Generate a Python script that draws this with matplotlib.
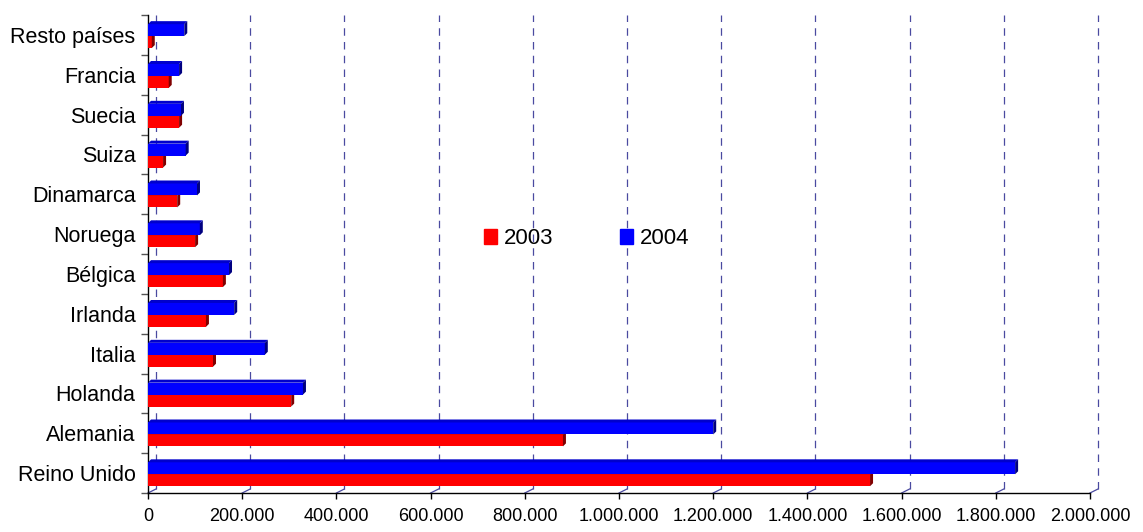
import numpy as np
import matplotlib
matplotlib.use("Agg")
import matplotlib.pyplot as plt
from matplotlib.patches import Patch
from matplotlib.ticker import FuncFormatter, MultipleLocator
from matplotlib.transforms import blended_transform_factory

# data (bottom to top)
paises = ["Reino Unido", "Alemania", "Holanda", "Italia", "Irlanda", "Bélgica",
          "Noruega", "Dinamarca", "Suiza", "Suecia", "Francia", "Resto países"]
v2003 = [1533000, 881000, 304000, 138000, 123000, 159000,
         100000, 62000, 32000, 66000, 44000, 8000]
v2004 = [1841000, 1200000, 329000, 248000, 183000, 172000,
         110000, 104000, 80000, 70000, 66000, 77000]
series = ["2003", "2004"]
xmax = 2000000

plt.rcParams['font.family'] = ['Liberation Sans', 'DejaVu Sans']

fig = plt.figure(figsize=(11.43, 5.32), dpi=100)
ax = fig.add_axes([148 / 1143, 39 / 532, (1090 - 148) / 1143, 478 / 532])
ax.set_xlim(0, xmax)
ax.set_ylim(-0.5, len(paises) - 0.5)

# pixel -> data helpers for the 3d look
ax_w = (1090 - 148)
ax_h = 478
px_x = xmax / ax_w
px_y = len(paises) / ax_h

h = 0.3
y = np.arange(len(paises)) - 0.03
d_x, d_y = 3 * px_x, 3 * px_y


def bar3d(vals, yc, front, top, side):
    ax.barh(yc, vals, height=h, color=front, edgecolor='none', zorder=3)
    for v, c in zip(vals, yc):
        t, b = c + h / 2, c - h / 2
        ax.fill([0, v, v + d_x, d_x], [t, t, t + d_y, t + d_y],
                color=top, lw=0, zorder=3)
        ax.fill([v, v + d_x, v + d_x, v], [b, b + d_y, t + d_y, t],
                color=side, lw=0, zorder=3)


bar3d(v2003, y - h / 2, '#ff0000', '#cc0000', '#800000')
bar3d(v2004, y + h / 2, '#0000ff', '#0000cc', '#000080')

# dashed "back wall" gridlines shifted up-right
bt = blended_transform_factory(ax.transData, ax.transAxes)
gx, gy = 8 * px_x, 4 / ax_h
for t in np.arange(0, xmax + 1, 200000):
    ax.plot([t + gx, t + gx], [gy, 1], transform=bt, color='#4a4aa0',
            lw=0.9, ls=(0, (6, 5)), zorder=1, clip_on=False)
    ax.plot([t, t + gx], [0, gy], transform=bt, color='#4a4aa0',
            lw=0.9, zorder=1, clip_on=False)

for s in ['top', 'right']:
    ax.spines[s].set_visible(False)
ax.spines['left'].set_linewidth(1)
ax.spines['bottom'].set_linewidth(1)

ax.xaxis.set_major_locator(MultipleLocator(200000))
ax.xaxis.set_major_formatter(FuncFormatter(lambda v, p: f"{v:,.0f}".replace(",", ".")))
ax.tick_params(axis='x', length=4, width=1, pad=7, labelsize=13)

ax.set_yticks(np.arange(len(paises)))
ax.set_yticklabels(paises)
ax.set_yticks(np.arange(len(paises) + 1) - 0.5, minor=True)
ax.tick_params(axis='y', which='major', length=0, pad=9, labelsize=15.5)
ax.tick_params(axis='y', which='minor', length=5, width=1, color='#555555')

handles = [Patch(color='#ff0000'), Patch(color='#0000ff')]
fig.legend(handles, series, loc='center', bbox_to_anchor=(0.513, 0.551),
           ncol=2, frameon=False, fontsize=16, handlelength=0.6,
           handleheight=0.6, handletextpad=0.3, columnspacing=3.0)

fig.savefig("out.png", dpi=100)
